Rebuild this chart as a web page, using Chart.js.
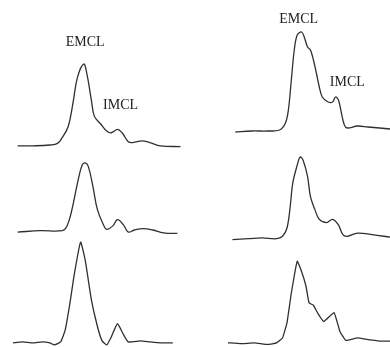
<!DOCTYPE html>
<html>
<head>
<meta charset="utf-8">
<script src="https://cdn.jsdelivr.net/npm/chart.js@4"></script>
<style>
  html, body { margin: 0; padding: 0; background: #fff; }
  body { width: 390px; height: 347px; overflow: hidden; position: relative; }
  .panel { position: absolute; }
</style>
</head>
<body>
<div class="panel" id="pLT" style="left:0px;top:15px;width:195px;height:139px"><canvas id="cLT"></canvas></div>
<div class="panel" id="pRT" style="left:195px;top:-28px;width:195px;height:170px"><canvas id="cRT"></canvas></div>
<div class="panel" id="pLM" style="left:0px;top:156px;width:195px;height:83px"><canvas id="cLM"></canvas></div>
<div class="panel" id="pRM" style="left:195px;top:149px;width:195px;height:97px"><canvas id="cRM"></canvas></div>
<div class="panel" id="pLB" style="left:0px;top:232px;width:195px;height:121px"><canvas id="cLB"></canvas></div>
<div class="panel" id="pRB" style="left:195px;top:253px;width:195px;height:98px"><canvas id="cRB"></canvas></div>
<script>
// chemical shift (ppm) and normalised intensity of each spectrum
var ppmLT = [1.97, 1.87, 1.76, 1.71, 1.68, 1.64, 1.61, 1.58, 1.54, 1.52, 1.49, 1.47, 1.43, 1.39, 1.36, 1.32, 1.29, 1.25, 1.22, 1.16, 1.11, 1.04, 0.91];
var intLT = [0.00, 0.00, 0.01, 0.03, 0.10, 0.24, 0.52, 0.84, 1.00, 0.89, 0.56, 0.36, 0.27, 0.18, 0.16, 0.20, 0.16, 0.05, 0.04, 0.06, 0.04, 0.00, -0.01];

var ppmLM = [1.97, 1.82, 1.68, 1.65, 1.62, 1.58, 1.55, 1.53, 1.51, 1.48, 1.45, 1.41, 1.39, 1.35, 1.32, 1.28, 1.25, 1.21, 1.15, 1.09, 1.02, 0.93];
var intLM = [0.00, 0.02, 0.02, 0.08, 0.29, 0.71, 0.97, 1.00, 0.95, 0.66, 0.32, 0.10, 0.04, 0.09, 0.18, 0.10, 0.00, 0.03, 0.05, 0.03, -0.01, -0.02];

var ppmLB = [2.00, 1.94, 1.87, 1.81, 1.76, 1.73, 1.69, 1.66, 1.63, 1.60, 1.56, 1.53, 1.49, 1.45, 1.42, 1.39, 1.36, 1.32, 1.28, 1.25, 1.17, 1.11, 1.04, 0.96];
var intLB = [0.00, 0.01, 0.00, 0.01, 0.00, -0.02, 0.01, 0.13, 0.39, 0.69, 1.00, 0.82, 0.43, 0.16, 0.02, -0.02, 0.06, 0.19, 0.08, 0.01, 0.02, 0.01, 0.00, 0.00];

var ppmRT = [1.95, 1.84, 1.73, 1.65, 1.61, 1.59, 1.57, 1.55, 1.53, 1.50, 1.48, 1.46, 1.44, 1.42, 1.40, 1.38, 1.36, 1.32, 1.29, 1.27, 1.25, 1.23, 1.21, 1.19, 1.12, 1.05, 0.97, 0.90];
var intRT = [0.00, 0.01, 0.01, 0.02, 0.09, 0.22, 0.52, 0.82, 0.97, 1.00, 0.94, 0.85, 0.82, 0.72, 0.59, 0.45, 0.35, 0.30, 0.30, 0.35, 0.32, 0.19, 0.07, 0.04, 0.06, 0.05, 0.04, 0.03];

var ppmRM = [1.97, 1.86, 1.77, 1.67, 1.63, 1.60, 1.58, 1.56, 1.53, 1.51, 1.49, 1.46, 1.44, 1.41, 1.38, 1.33, 1.29, 1.25, 1.22, 1.19, 1.12, 1.02, 0.90];
var intRM = [-0.02, -0.01, 0.00, -0.01, 0.02, 0.12, 0.35, 0.68, 0.90, 1.00, 0.96, 0.76, 0.51, 0.35, 0.23, 0.19, 0.23, 0.16, 0.04, 0.02, 0.06, 0.04, 0.01];

var ppmRB = [2.00, 1.91, 1.82, 1.73, 1.67, 1.63, 1.60, 1.57, 1.53, 1.50, 1.47, 1.45, 1.42, 1.39, 1.35, 1.28, 1.24, 1.20, 1.12, 1.05, 0.95, 0.90];
var intRB = [0.00, -0.01, 0.00, -0.02, 0.00, 0.06, 0.24, 0.61, 1.00, 0.87, 0.69, 0.49, 0.46, 0.36, 0.26, 0.37, 0.14, 0.03, 0.06, 0.04, 0.02, 0.02];

// peak labels: text, ppm, intensity
var labelsLT = [['EMCL', 1.53, 1.26], ['IMCL', 1.30, 0.50]];
var labelsRT = [['EMCL', 1.52, 1.13], ['IMCL', 1.19, 0.50]];

var peakLabels = {
    id: 'peakLabels',
    afterDatasetsDraw: function (chart, args, opts) {
        var list = opts.items || [];
        var ctx = chart.ctx;
        ctx.save();
        ctx.font = '14px "Liberation Serif", "DejaVu Serif", serif';
        ctx.fillStyle = '#222';
        ctx.textAlign = 'center';
        ctx.textBaseline = 'middle';
        list.forEach(function (l) {
            ctx.fillText(l[0], chart.scales.x.getPixelForValue(l[1]), chart.scales.y.getPixelForValue(l[2]));
        });
        ctx.restore();
    }
};

function spectrum(canvasId, ppm, inten, opt) {
    var pts = ppm.map(function (p, i) { return { x: p, y: inten[i] }; });
    return new Chart(document.getElementById(canvasId), {
        type: 'line',
        data: {
            datasets: [{
                data: pts,
                borderColor: '#303030',
                borderWidth: 1.3,
                pointRadius: 0,
                tension: opt.tension,
                fill: false,
                clip: false
            }]
        },
        options: {
            responsive: true,
            maintainAspectRatio: false,
            animation: false,
            layout: { padding: opt.padding },
            scales: {
                x: { type: 'linear', reverse: true, min: 0.9, max: 2.0, display: false },
                y: { min: -0.1, max: opt.ymax, display: false }
            },
            plugins: {
                legend: { display: false },
                tooltip: { enabled: false },
                peakLabels: { items: opt.labels || [] }
            }
        },
        plugins: [peakLabels]
    });
}

var padL = { left: 13, right: 13, top: 0, bottom: 0 };
var padR = { left: 33, right: 0, top: 0, bottom: 0 };

spectrum('cLT', ppmLT, intLT, { padding: padL, ymax: 1.6, tension: 0.4, labels: labelsLT });
spectrum('cRT', ppmRT, intRT, { padding: padR, ymax: 1.6, tension: 0.35, labels: labelsRT });
spectrum('cLM', ppmLM, intLM, { padding: padL, ymax: 1.1, tension: 0.4 });
spectrum('cRM', ppmRM, intRM, { padding: padR, ymax: 1.1, tension: 0.35 });
spectrum('cLB', ppmLB, intLB, { padding: padL, ymax: 1.1, tension: 0.15 });
spectrum('cRB', ppmRB, intRB, { padding: padR, ymax: 1.1, tension: 0.1 });
</script>
</body>
</html>
